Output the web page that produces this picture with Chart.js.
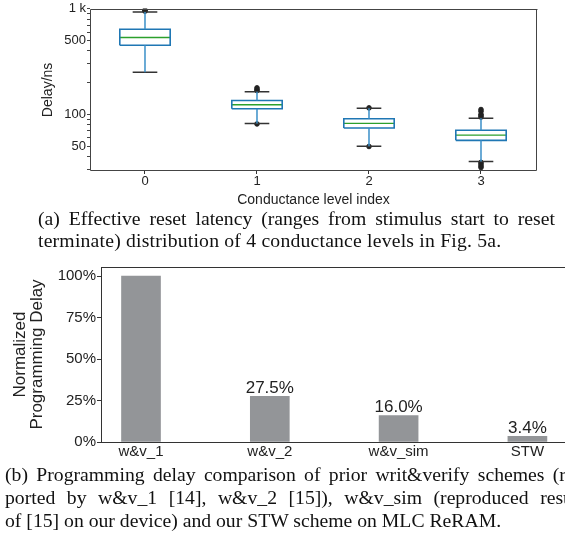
<!DOCTYPE html>
<html><head><meta charset="utf-8">
<script src="https://cdn.jsdelivr.net/npm/chart.js@4.4.1/dist/chart.umd.min.js"></script>
<style>
html,body{margin:0;padding:0;background:#fff;width:565px;height:535px;overflow:hidden;position:relative;}
canvas{position:absolute;left:0;}
#c1{top:0}
#c2{top:255px}
.cap{position:absolute;font-family:"Liberation Serif","Times New Roman",serif;font-size:19.7px;color:#111;white-space:nowrap;line-height:23px;}
.just{display:flex;justify-content:space-between;}
</style></head><body>
<canvas id="c1" width="565" height="212"></canvas>
<canvas id="c2" width="565" height="212"></canvas>
<div class="cap just" id="capA1" style="left:38px;top:207px;width:517px">(a) Effective reset latency (ranges from stimulus start to reset</div>
<div class="cap" style="left:38px;top:229px;letter-spacing:0.2px">terminate) distribution of 4 conductance levels in Fig. 5a.</div>
<div class="cap just" id="capB1" style="left:5px;top:463px;width:561px">(b) Programming delay comparison of prior writ&amp;verify schemes (r</div>
<div class="cap just" id="capB2" style="left:5px;top:486px;width:568px">ported by w&amp;v_1 [14], w&amp;v_2 [15]), w&amp;v_sim (reproduced resu</div>
<div class="cap" style="left:5px;top:509px">of [15] on our device) and our STW scheme on MLC ReRAM.</div>
<script>
// ---------- data: box plot (a) ----------
const levels = [0, 1, 2, 3];
const whiskLo = [250, 82, 49.8, 35.7];
const q1 = [451, 113, 74.2, 56.6];
const med = [535, 123, 82, 63.4];
const q3 = [640, 135, 90.6, 70.6];
const whiskHi = [931, 164, 114, 91.6];
const outliers = [
  [950, 965, 980],
  [168, 172, 178, 81],
  [115, 49.5],
  [94, 97, 100, 106.6, 111, 35, 33.7, 32.4, 31.3]
];
const delayTicks = [30, 40, 50, 60, 70, 80, 90, 100, 200, 300, 400, 500, 600, 700, 800, 900, 1000];
const delayTickLabels = {1000: '1 k', 500: '500', 100: '100', 50: '50'};

// ---------- data: bar chart (b) ----------
const schemes = ['w&v_1', 'w&v_2', 'w&v_sim', 'STW'];
const delayPct = [100, 27.5, 16.0, 3.4];
const showValue = [false, true, true, true];
const pctTicks = [0, 25, 50, 75, 100];

// justify caption words
document.querySelectorAll('.just').forEach(d => {
  const words = d.textContent.split(' ');
  d.textContent = '';
  words.forEach(w => { const s = document.createElement('span'); s.textContent = w; d.appendChild(s); });
});

const SANS = '"Liberation Sans", Arial, sans-serif';
const BW = 0.225, CW = 0.11;

function paths(list) {
  const out = [];
  list.forEach(p => {
    p.forEach(([x, y]) => out.push({x, y}));
    out.push({x: p[p.length - 1][0], y: null});
  });
  return out;
}

const boxPaths = paths(levels.map((x, i) => [
  [x - BW, q1[i]], [x + BW, q1[i]], [x + BW, q3[i]], [x - BW, q3[i]], [x - BW, q1[i]]
]));
const medPaths = paths(levels.map((x, i) => [[x - BW, med[i]], [x + BW, med[i]]]));
const whiskPaths = paths(levels.flatMap((x, i) => [
  [[x, q3[i]], [x, whiskHi[i]]], [[x, q1[i]], [x, whiskLo[i]]]
]));
const capPaths = paths(levels.flatMap((x, i) => [
  [[x - CW, whiskHi[i]], [x + CW, whiskHi[i]]], [[x - CW, whiskLo[i]], [x + CW, whiskLo[i]]]
]));
const outPts = levels.flatMap((x, i) => outliers[i].map(y => ({x, y})));

const framePlugin = {
  id: 'frame',
  afterDraw(chart, args, opts) {
    const {ctx, chartArea: a} = chart;
    ctx.save();
    ctx.strokeStyle = opts.color || '#333';
    ctx.lineWidth = 1;
    ctx.beginPath();
    const L = Math.round(a.left) + 0.5, R = Math.round(a.right) - 0.5,
          T = Math.round(a.top) + 0.5, B = Math.round(a.bottom) - 0.5;
    if (opts.sides.includes('t')) { ctx.moveTo(L, T); ctx.lineTo(R + 1, T); }
    if (opts.sides.includes('r')) { ctx.moveTo(R, T); ctx.lineTo(R, B); }
    if (opts.sides.includes('b')) { ctx.moveTo(L, B); ctx.lineTo(R, B); }
    if (opts.sides.includes('l')) { ctx.moveTo(L, T); ctx.lineTo(L, B); }
    ctx.stroke();
    ctx.restore();
  }
};

const lineDs = (data, color, w) => ({
  data, borderColor: color, borderWidth: w, pointRadius: 0, tension: 0,
  spanGaps: false, fill: false
});

new Chart(document.getElementById('c1'), {
  type: 'line',
  data: {
    datasets: [
      lineDs(whiskPaths, '#3a8fc8', 1.5),
      lineDs(capPaths, '#333333', 1.5),
      lineDs(boxPaths, '#1f77b4', 1.6),
      lineDs(medPaths, '#2ca02c', 1.4),
      {data: outPts, showLine: false, pointRadius: 2.3, pointBackgroundColor: '#222',
       pointBorderColor: '#222', pointBorderWidth: 1}
    ]
  },
  options: {
    responsive: false, animation: false,
    layout: {padding: {top: 5, right: 28, left: 0, bottom: 0}},
    plugins: {legend: {display: false}, tooltip: {enabled: false},
      frame: {sides: 'trbl', color: '#444'}},
    scales: {
      x: {
        type: 'linear', min: -0.491, max: 3.5,
        afterBuildTicks: s => { s.ticks = levels.map(v => ({value: v})); },
        afterFit: s => { s.height = 41; },
        ticks: {font: {family: SANS, size: 13}, color: '#222', padding: 0, autoSkip: false,
          callback: v => String(v)},
        grid: {drawOnChartArea: false, tickLength: 3, color: '#333'},
        border: {display: false},
        title: {display: true, text: 'Conductance level index', color: '#222',
          font: {family: SANS, size: 14}, padding: {top: 0, bottom: 3}}
      },
      y: {
        type: 'logarithmic', min: 29, max: 1000,
        afterBuildTicks: s => { s.ticks = delayTicks.map(v => ({value: v})); },
        afterFit: s => { s.width = 90; },
        ticks: {font: {family: SANS, size: 13}, color: '#222', padding: 1, autoSkip: false,
          callback: v => delayTickLabels[v] || ''},
        grid: {drawOnChartArea: false, tickLength: 3, color: '#444'},
        border: {display: false},
        title: {display: true, text: 'Delay/ns', color: '#222',
          font: {family: SANS, size: 14}, padding: {top: 40, bottom: 0}}
      }
    }
  },
  plugins: [framePlugin]
});

const valuePlugin = {
  id: 'values',
  afterDatasetsDraw(chart) {
    const {ctx} = chart;
    const meta = chart.getDatasetMeta(0);
    ctx.save();
    ctx.font = '17px ' + SANS;
    ctx.fillStyle = '#222';
    ctx.textAlign = 'center';
    ctx.textBaseline = 'alphabetic';
    meta.data.forEach((bar, i) => {
      if (!showValue[i]) return;
      ctx.fillText(delayPct[i].toFixed(1) + '%', bar.x, bar.y - 3);
    });
    ctx.restore();
  }
};

new Chart(document.getElementById('c2'), {
  type: 'bar',
  data: {
    datasets: [{
      data: schemes.map((s, i) => ({x: i, y: delayPct[i]})),
      backgroundColor: '#939598', borderWidth: 0, barThickness: 39
    }]
  },
  options: {
    responsive: false, animation: false,
    layout: {padding: {top: 12, right: 0, left: 0, bottom: 0}},
    plugins: {legend: {display: false}, tooltip: {enabled: false},
      frame: {sides: 't', color: '#333'}},
    scales: {
      x: {
        type: 'linear', min: -0.3106, max: 3.2919, offset: false,
        afterBuildTicks: s => { s.ticks = schemes.map((c, i) => ({value: i})); },
        afterFit: s => { s.height = 25; },
        ticks: {font: {family: SANS, size: 15}, color: '#222', padding: 1, autoSkip: false,
          maxRotation: 0, callback: v => schemes[v]},
        grid: {drawOnChartArea: false, drawTicks: false},
        border: {color: '#333', width: 1}
      },
      y: {
        min: 0, max: 105.5,
        afterBuildTicks: s => { s.ticks = pctTicks.map(v => ({value: v})); },
        afterFit: s => { s.width = 101; },
        ticks: {font: {family: SANS, size: 15}, color: '#222', padding: 1, autoSkip: false,
          callback: v => v + '%'},
        grid: {drawOnChartArea: false, tickLength: 4, color: '#333'},
        border: {color: '#333', width: 1},
        title: {display: true, text: ['Normalized', 'Programming Delay'], color: '#222',
          font: {family: SANS, size: 17, lineHeight: 1.05}, padding: {top: 11, bottom: 0}}
      }
    }
  },
  plugins: [framePlugin, valuePlugin]
});
</script>
</body></html>
